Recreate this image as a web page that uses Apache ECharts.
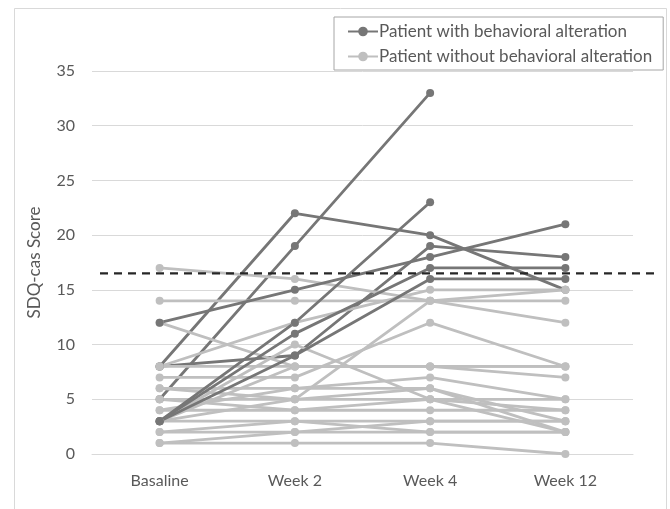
<!DOCTYPE html>
<html>
<head>
<meta charset="utf-8">
<script src="https://cdn.jsdelivr.net/npm/echarts@6/dist/echarts.min.js"></script>
<style>
html,body{margin:0;padding:0;background:#fff;}
#chart{width:670px;height:509px;}
</style>
</head>
<body>
<div id="chart"></div>
<script>
// ---- data ----
const categories = ["Basaline", "Week 2", "Week 4", "Week 12"];
const yTicks = [0, 5, 10, 15, 20, 25, 30, 35];
const cutoff = 16.5;
const nameWith = "Patient with behavioral alteration";
const nameWithout = "Patient without behavioral alteration";

// patients with behavioral alteration drawn beneath the others
const withAltBack = [
  [8, 22, 20, 15],
  [5, 19, 33, null],
  [8, 9, 19, 18]
];
// patients without behavioral alteration
const withoutAlt = [
  [17, 16, 14, 14],
  [14, 14, 14, 15],
  [12, 8, 8, 8],
  [8, 12, 15, 15],
  [8, 8, 8, 7],
  [7, 7, 12, 8],
  [6, 5, 14, 12],
  [3, 10, 5, 2],
  [6, 6, 7, 5],
  [5, 5, 5, 5],
  [4, 4, 4, 4],
  [3, 3, 3, 3],
  [2, 2, 3, 3],
  [1, 1, 1, 0],
  [2, 3, 2, 2],
  [3, 5, 6, 2],
  [4, 6, 6, 3],
  [1, 2, 2, 2],
  [5, 4, 5, 4],
  [3, 8, 8, 8]
];
// patients with behavioral alteration drawn on top
const withAltFront = [
  [12, 15, 18, 21],
  [3, 12, 23, null],
  [3, 11, 17, 17],
  [3, 9, 16, 16]
];

const darkColor = "#767676";
const lightColor = "#bfbfbf";
const fontFam = "Lato, 'Open Sans', sans-serif";

function mkSeries(name, data, color) {
  return {
    name: name,
    type: "line",
    data: data,
    xAxisIndex: 0, yAxisIndex: 0,
    symbol: "circle",
    symbolSize: 8,
    showSymbol: true,
    lineStyle: { color: color, width: 2.8 },
    itemStyle: { color: color },
    emphasis: { disabled: true },
    animation: false,
    z: 2
  };
}

const series = [];
withAltBack.forEach(d => series.push(mkSeries(nameWith, d, darkColor)));
withoutAlt.forEach(d => series.push(mkSeries(nameWithout, d, lightColor)));
withAltFront.forEach(d => series.push(mkSeries(nameWith, d, darkColor)));

// cutoff dashed line on an overlay grid spanning wider than the plot
series.push({
  type: "line",
  xAxisIndex: 1, yAxisIndex: 1,
  data: [[0, cutoff], [1, cutoff]],
  symbol: "none",
  lineStyle: { color: "#262626", width: 2.2, type: [8, 6] },
  animation: false,
  silent: true,
  z: 5
});

const chart = echarts.init(document.getElementById("chart"), null, { renderer: "canvas" });
chart.setOption({
  backgroundColor: "#fff",
  animation: false,
  graphic: [{
    type: "rect",
    shape: { x: 14.5, y: 8.5, width: 652, height: 520 },
    style: { fill: "none", stroke: "#d9d9d9", lineWidth: 1 },
    z: -1
  }],
  legend: {
    data: [nameWith, nameWithout],
    orient: "vertical",
    left: 334, top: 17,
    padding: [6, 11, 5, 13],
    borderColor: "#a6a6a6",
    borderWidth: 1,
    itemWidth: 30, itemHeight: 12,
    itemGap: 8,
    textStyle: { fontFamily: fontFam, fontSize: 17, color: "#595959", padding: [0, 0, 0, -4] },
    selectedMode: false
  },
  grid: [
    { left: 92, right: 37, top: 71, bottom: 55 },
    { left: 100, right: 12, top: 71, bottom: 55 }
  ],
  xAxis: [
    {
      type: "category", gridIndex: 0,
      data: categories,
      boundaryGap: true,
      axisLine: { show: true, lineStyle: { color: "#d9d9d9", width: 1 } },
      axisTick: { show: false },
      axisLabel: { fontFamily: fontFam, fontSize: 16, color: "#595959", margin: 19 }
    },
    { type: "value", gridIndex: 1, min: 0, max: 1, show: false }
  ],
  yAxis: [
    {
      type: "value", gridIndex: 0,
      min: yTicks[0], max: yTicks[yTicks.length - 1], interval: 5,
      name: "SDQ-cas Score",
      nameLocation: "middle",
      nameGap: 49,
      nameTextStyle: { fontFamily: fontFam, fontSize: 17, color: "#595959" },
      axisLine: { show: false },
      axisTick: { show: false },
      axisLabel: { fontFamily: fontFam, fontSize: 16, color: "#595959", margin: 17 },
      splitLine: { lineStyle: { color: "#d9d9d9", width: 1 } }
    },
    { type: "value", gridIndex: 1, min: yTicks[0], max: yTicks[yTicks.length - 1], show: false }
  ],
  series: series
});
</script>
</body>
</html>
